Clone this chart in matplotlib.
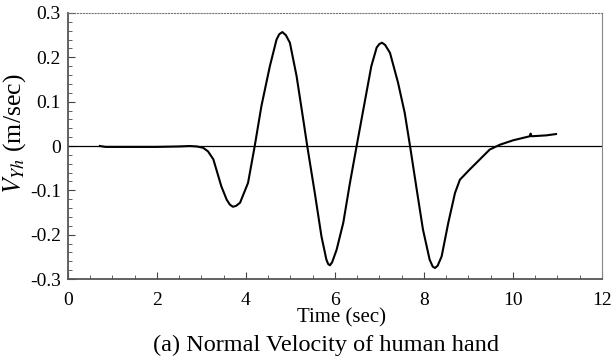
import matplotlib.pyplot as plt
from matplotlib.ticker import MultipleLocator

# == data ==
time = [0.72, 0.85, 1.5, 2.0, 2.5, 2.74, 2.9, 3.04, 3.15, 3.27, 3.45, 3.57, 3.64,
        3.71, 3.78, 3.87, 4.05, 4.20, 4.35, 4.54, 4.69, 4.75, 4.82, 4.90, 4.99,
        5.14, 5.29, 5.38, 5.55, 5.70, 5.81, 5.85, 5.89, 5.94, 6.04, 6.19, 6.34,
        6.49, 6.64, 6.82, 6.94, 7.00, 7.06, 7.13, 7.24, 7.42, 7.57, 7.69, 7.84,
        7.98, 8.13, 8.20, 8.25, 8.31, 8.40, 8.55, 8.70, 8.81, 9.03, 9.26, 9.48,
        9.71, 10.01, 10.38, 10.40, 10.42, 10.75, 10.97]
vel = [0.000, -0.002, -0.002, -0.002, -0.001, 0.000, -0.001, -0.004, -0.012, -0.030,
       -0.091, -0.121, -0.132, -0.137, -0.135, -0.128, -0.083, 0.000, 0.090, 0.180,
       0.240, 0.252, 0.257, 0.250, 0.233, 0.158, 0.060, 0.000, -0.106, -0.204,
       -0.256, -0.266, -0.269, -0.262, -0.234, -0.173, -0.083, 0.000, 0.082, 0.180,
       0.222, 0.230, 0.233, 0.228, 0.210, 0.143, 0.075, 0.000, -0.098, -0.188,
       -0.256, -0.272, -0.275, -0.270, -0.249, -0.173, -0.106, -0.076, -0.053,
       -0.030, -0.008, 0.003, 0.013, 0.022, 0.028, 0.022, 0.024, 0.027]

plt.rcParams["font.family"] = ["Liberation Serif", "DejaVu Serif"]
plt.rcParams["mathtext.fontset"] = "stix"

fig = plt.figure(figsize=(6.11, 3.61), dpi=100)
ax = fig.add_axes([0.111, 0.227, 0.874, 0.737])

ax.axhline(0, color="black", lw=0.9)
ax.plot(time, vel, color="black", lw=1.5, solid_joinstyle="round")

ax.set_xlim(0, 12)
ax.set_ylim(-0.3, 0.3)
ax.xaxis.set_major_locator(MultipleLocator(2))
ax.xaxis.set_minor_locator(MultipleLocator(0.5))
ax.yaxis.set_minor_locator(MultipleLocator(0.02))
ax.set_yticks([-0.3, -0.2, -0.1, 0, 0.1, 0.2, 0.3])
ax.set_yticklabels(["-0.3", "-0.2", "-0.1", "0", "0.1", "0.2", "0.3"])
ax.tick_params(which="both", direction="in", top=False, right=False,
               labelsize=14, color="#444444")
ax.tick_params(axis="x", which="major", length=5, pad=9)
ax.tick_params(axis="y", which="major", length=5, pad=5)
ax.tick_params(which="minor", length=3)

for s in ["left", "bottom"]:
    ax.spines[s].set_color("#555555")
    ax.spines[s].set_linewidth(1.3)
ax.spines["top"].set_color("#777777")
ax.spines["top"].set_linestyle(":")
ax.spines["right"].set_color("#888888")

ax.set_ylabel(r"$V_{Yh}$ (m/sec)", fontsize=18.5)
ax.yaxis.set_label_coords(-0.075, 0.545)
ax.set_xlabel("Time (sec)", fontsize=15)
ax.xaxis.set_label_coords(0.513, -0.11)
fig.text(0.534, 0.028, "(a) Normal Velocity of human hand", ha="center",
         va="baseline", fontsize=17.5)

plt.savefig("out.png")
